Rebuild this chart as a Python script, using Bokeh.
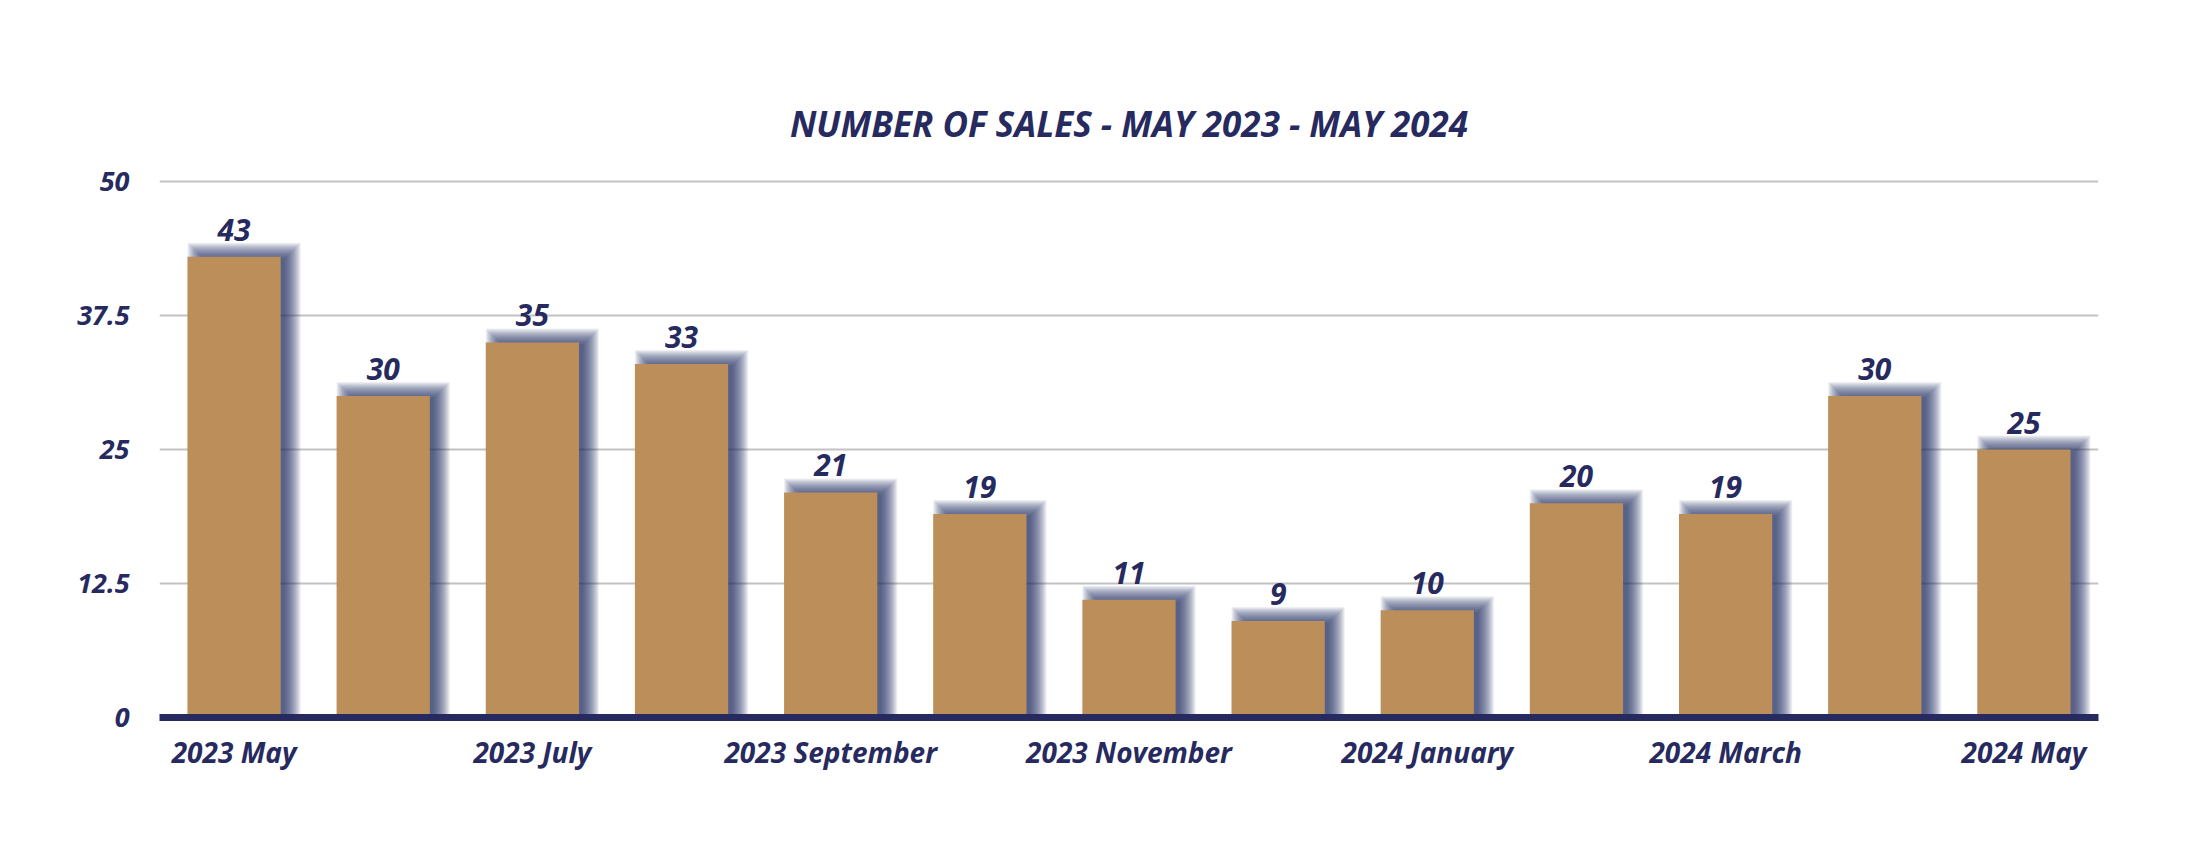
from bokeh.plotting import figure
from bokeh.models import ColumnDataSource, FixedTicker, LabelSet, Title
from bokeh.core.properties import value
from bokeh.embed import file_html
from bokeh.resources import INLINE

months = ["2023 May", "2023 June", "2023 July", "2023 August", "2023 September",
          "2023 October", "2023 November", "2023 December", "2024 January",
          "2024 February", "2024 March", "2024 April", "2024 May"]
sales = [43, 30, 35, 33, 21, 19, 11, 9, 10, 20, 19, 30, 25]
shown_labels = [0, 2, 4, 6, 8, 10, 12]
y_ticks = [0, 12.5, 25, 37.5, 50]
y_tick_labels = ["0", "12.5", "25", "37.5", "50"]

NAVY = "#262a5e"
BAR = "#bb8e5a"
FONT = "Open Sans"

Y_MAX = 50.3
PPU_Y = 536 / 50.0
FW, FH = 1939, int(round(536 * Y_MAX / 50.0))
xs = list(range(len(months)))
ppu_x = FW / len(months)
bar_w = 0.625

p = figure(width=2196, height=842, output_backend="svg", toolbar_location=None,
           x_range=(-0.5, len(months) - 0.5), y_range=(0, Y_MAX),
           frame_width=FW, frame_height=FH,
           min_border_left=159, min_border_top=178, min_border_right=98,
           min_border_bottom=100)
p.outline_line_color = None
p.background_fill_color = "white"
p.border_fill_color = "white"

t = Title(text="NUMBER OF SALES - MAY 2023 - MAY 2024", align="center",
          text_font=FONT, text_font_style="bold italic", text_font_size="35px",
          text_color=NAVY, standoff=64)
p.add_layout(t, "above")

# soft shadow built from stacked translucent layers
dx, dy = 10.0, 4.0
spreads = list(range(-6, 11))
for s in spreads:
    src = ColumnDataSource(dict(
        x=[x + dx / ppu_x for x in xs],
        top=[v + (dy + s) / PPU_Y for v in sales],
    ))
    p.vbar(x="x", top="top", bottom=0, width=bar_w + 2 * s / ppu_x, source=src,
           fill_color="#2a2f66", fill_alpha=0.08, line_color=None)

src = ColumnDataSource(dict(x=xs, top=sales, lab=[str(v) for v in sales]))
p.vbar(x="x", top="top", bottom=0, width=bar_w, source=src,
       fill_color=BAR, line_color=None)

labels = LabelSet(x="x", y="top", text="lab", source=src, text_align="center",
                  text_baseline="alphabetic", y_offset=16, text_font=value(FONT),
                  text_font_style="bold italic", text_font_size="30px",
                  text_color=NAVY)
p.add_layout(labels)

# axes
p.xaxis.ticker = FixedTicker(ticks=shown_labels)
p.xaxis.major_label_overrides = {i: months[i] for i in shown_labels}
p.xaxis.axis_line_color = NAVY
p.xaxis.axis_line_width = 7
p.xaxis.major_tick_line_color = None
p.xaxis.major_tick_out = 0
p.xaxis.major_tick_in = 0
p.xaxis.minor_tick_line_color = None
p.xaxis.major_label_standoff = 15
p.xaxis.major_label_text_font = FONT
p.xaxis.major_label_text_font_style = "bold italic"
p.xaxis.major_label_text_font_size = "28px"
p.xaxis.major_label_text_color = NAVY

p.yaxis.ticker = FixedTicker(ticks=y_ticks)
p.yaxis.major_label_overrides = {t_: l for t_, l in zip(y_ticks, y_tick_labels)}
p.yaxis.axis_line_color = None
p.yaxis.major_tick_line_color = None
p.yaxis.major_tick_out = 0
p.yaxis.major_tick_in = 0
p.yaxis.minor_tick_line_color = None
p.yaxis.major_label_standoff = 30
p.yaxis.major_label_text_font = FONT
p.yaxis.major_label_text_font_style = "bold italic"
p.yaxis.major_label_text_font_size = "27px"
p.yaxis.major_label_text_color = NAVY

p.xgrid.grid_line_color = None
p.ygrid.ticker = FixedTicker(ticks=y_ticks[1:])
p.ygrid.grid_line_color = "#c2c2c2"
p.ygrid.grid_line_width = 2

open("out.html", "w").write(file_html(p, INLINE))
